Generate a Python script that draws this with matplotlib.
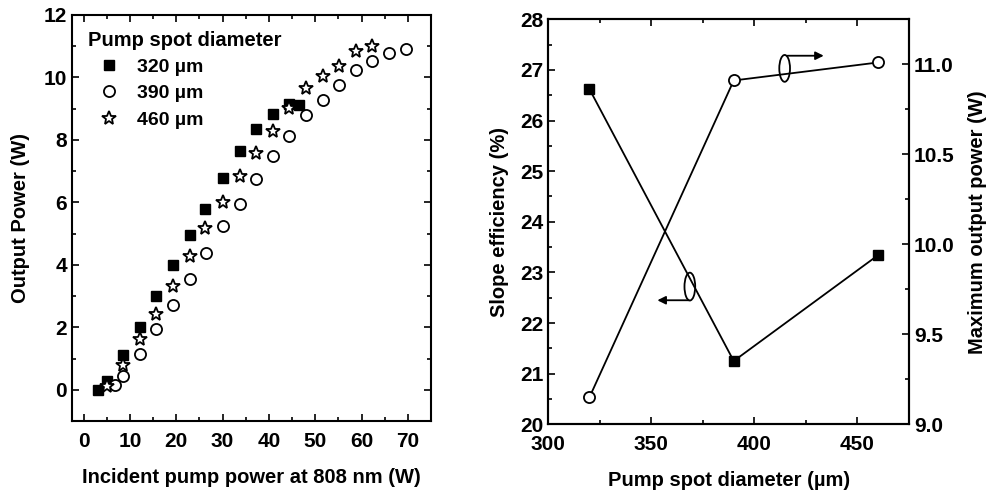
import matplotlib.pyplot as plt
from matplotlib.patches import Ellipse
from matplotlib.ticker import MultipleLocator

plt.rcParams['font.family'] = ['Liberation Sans', 'DejaVu Sans']
plt.rcParams['font.weight'] = 'bold'

# left panel: output power vs incident pump power
p320_x = [3.2, 5.0, 8.6, 12.2, 15.7, 19.3, 22.9, 26.3, 30.0, 33.7, 37.3, 40.9, 44.4, 46.4]
p320_y = [0.0, 0.27, 1.12, 2.02, 3.0, 3.99, 4.94, 5.80, 6.77, 7.63, 8.34, 8.83, 9.15, 9.11]

p390_x = [6.8, 8.6, 12.2, 15.7, 19.3, 22.9, 26.5, 30.0, 33.7, 37.3, 40.9, 44.4, 48.0,
          51.6, 55.2, 58.7, 62.3, 65.9, 69.5]
p390_y = [0.16, 0.43, 1.16, 1.94, 2.71, 3.54, 4.37, 5.23, 5.95, 6.76, 7.50, 8.11, 8.79,
          9.28, 9.76, 10.23, 10.54, 10.77, 10.90]

p460_x = [5.0, 8.6, 12.2, 15.7, 19.3, 22.9, 26.3, 30.0, 33.7, 37.3, 40.9, 44.4, 48.0,
          51.6, 55.2, 58.7, 62.3]
p460_y = [0.13, 0.80, 1.62, 2.43, 3.31, 4.27, 5.17, 6.0, 6.85, 7.59, 8.29, 9.01, 9.65,
          10.05, 10.37, 10.85, 11.0]

# right panel: slope efficiency and max output power vs spot diameter
spot = [320, 390, 460]
slope_eff = [26.62, 21.25, 23.34]
max_power = [9.15, 10.91, 11.01]

fig = plt.figure(figsize=(9.95, 4.98), dpi=100)


def style_ticks(ax, **kw):
    ax.tick_params(which='both', direction='in', width=1.2, labelsize=15, **kw)
    ax.tick_params(which='major', length=5)
    ax.tick_params(which='minor', length=3)
    for s in ax.spines.values():
        s.set_linewidth(1.5)


# ---- left panel
ax1 = fig.add_axes([0.0724, 0.1546, 0.3608, 0.8153])
ax1.plot(p320_x, p320_y, 's', color='black', ms=7, label='320 \u00b5m')
ax1.plot(p390_x, p390_y, 'o', mfc='white', mec='black', mew=1.3, ms=8, label='390 \u00b5m')
ax1.plot(p460_x, p460_y, '*', mfc='white', mec='black', mew=1.3, ms=10, label='460 \u00b5m')
ax1.xaxis.set_major_locator(MultipleLocator(10))
ax1.xaxis.set_minor_locator(MultipleLocator(5))
ax1.yaxis.set_major_locator(MultipleLocator(2))
ax1.yaxis.set_minor_locator(MultipleLocator(1))
ax1.set_xticks(range(0, 71, 10))
ax1.set_xlim(-2.5, 75)
ax1.set_ylim(-1, 12)
style_ticks(ax1, top=True, right=True)
ax1.tick_params(axis='x', pad=8)
ax1.set_xlabel('Incident pump power at 808 nm (W)', fontsize=14.5, fontweight='bold', labelpad=12)
ax1.set_ylabel('Output Power (W)', fontsize=14.5, fontweight='bold', labelpad=10)
leg = ax1.legend(title='Pump spot diameter', loc='upper left', frameon=False,
                 fontsize=14, title_fontsize=14.5, handletextpad=0.35,
                 borderaxespad=0.4, labelspacing=0.45, handlelength=2.2)
leg._legend_box.align = 'left'
leg.get_title().set_fontweight('bold')

# ---- right panel
ax2 = fig.add_axes([0.551, 0.148, 0.3625, 0.8133])
ax2.plot(spot, slope_eff, 's-', color='black', lw=1.3, ms=7)
ax2.set_xlim(300, 475)
ax2.set_ylim(20, 28)
ax2.xaxis.set_major_locator(MultipleLocator(50))
ax2.xaxis.set_minor_locator(MultipleLocator(25))
ax2.yaxis.set_major_locator(MultipleLocator(1))
ax2.yaxis.set_minor_locator(MultipleLocator(0.5))
style_ticks(ax2, top=True)
ax2.tick_params(axis='x', pad=8)
ax2.set_xlabel('Pump spot diameter (\u00b5m)', fontsize=14.5, fontweight='bold', labelpad=12)
ax2.set_ylabel('Slope efficiency (%)', fontsize=14.5, fontweight='bold', labelpad=8)

ax3 = ax2.twinx()
ax3.plot(spot, max_power, 'o-', color='black', mfc='white', mew=1.3, lw=1.3, ms=8)
ax3.set_ylim(9.0, 11.25)
ax3.yaxis.set_major_locator(MultipleLocator(0.5))
ax3.yaxis.set_minor_locator(MultipleLocator(0.25))
ax3.yaxis.set_major_formatter(plt.FormatStrFormatter('%.1f'))
style_ticks(ax3)
ax3.set_ylabel('Maximum output power (W)', fontsize=14.5, fontweight='bold', labelpad=10)

# ellipse + arrow markers indicating which axis each curve belongs to
ax2.add_patch(Ellipse((414.7, 27.03), 5.2, 0.53, fill=False, lw=1.3, color='black'))
ax2.annotate('', xy=(435, 27.28), xytext=(414.7, 27.28),
             arrowprops=dict(arrowstyle='-|>', color='black', lw=1.3, mutation_scale=12))
ax2.add_patch(Ellipse((368.7, 22.72), 5.2, 0.55, fill=False, lw=1.3, color='black'))
ax2.annotate('', xy=(351.6, 22.45), xytext=(369.5, 22.45),
             arrowprops=dict(arrowstyle='-|>', color='black', lw=1.3, mutation_scale=12))

plt.savefig('out.png', dpi=100)
